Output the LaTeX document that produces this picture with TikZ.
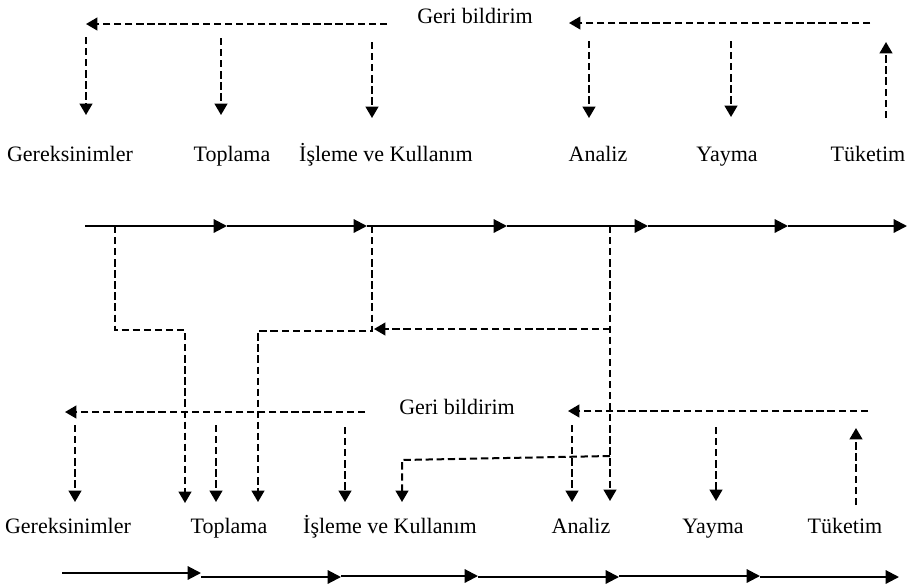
\documentclass[tikz,border=0pt]{standalone}
\usepackage{fontspec}
\setmainfont{Liberation Serif}
\usetikzlibrary{arrows.meta}
\begin{document}
\begin{tikzpicture}[x=0.75pt,y=-0.75pt,
  flow/.style={line width=1.6pt,-{Triangle[length=10pt,width=10pt]}},
  fbline/.style={line width=1.5pt,dash pattern=on 5.5pt off 2.8pt},
  fb/.style={fbline,-{Triangle[length=8.5pt,width=9.5pt]}},
  lbl/.style={font=\fontsize{16.5}{19}\selectfont,inner sep=0pt,anchor=base}]
\useasboundingbox (0,0) rectangle (908,587);
% ---------- top block ----------
\node[lbl] (g1) at (70,161) {Gereksinimler};
\node[lbl] (t1) at (232,161) {Toplama};
\node[lbl] (i1) at (386,161) {İşleme ve Kullanım};
\node[lbl] (a1) at (598,161) {Analiz};
\node[lbl] (y1) at (727,161) {Yayma};
\node[lbl] (k1) at (868,161) {Tüketim};
\node[lbl] (gb1) at (475,23) {Geri bildirim};
\coordinate (f1s) at (387,24); \coordinate (f1e) at (86,24);
\coordinate (f2s) at (870,23); \coordinate (f2e) at (569,23);
\draw[fb] (f1s) -- (f1e);
\draw[fb] (f2s) -- (f2e);
\coordinate (v1s) at (86,37);  \coordinate (v1e) at (86,115);
\coordinate (v2s) at (221,38); \coordinate (v2e) at (221,115);
\coordinate (v3s) at (372,42); \coordinate (v3e) at (372,118);
\coordinate (v4s) at (589,41); \coordinate (v4e) at (589,118);
\coordinate (v5s) at (731,41); \coordinate (v5e) at (731,117);
\coordinate (v6s) at (886,118); \coordinate (v6e) at (886,42);
\foreach \n in {1,...,6} {\draw[fb] (v\n s) -- (v\n e);}
% ---------- middle flow ----------
\coordinate (m0) at (85,226);
\coordinate (m1) at (227,226);
\coordinate (m2) at (367,226);
\coordinate (m3) at (507,226);
\coordinate (m4) at (648,226);
\coordinate (m5) at (788,226);
\coordinate (m6) at (907,226);
\draw[flow] (m0) -- (m1);
\draw[flow] (m1) -- (m2);
\draw[flow] (m2) -- (m3);
\draw[flow] (m3) -- (m4);
\draw[flow] (m4) -- (m5);
\draw[flow] (m5) -- (m6);
% ---------- bottom block ----------
\node[lbl] (g2) at (68,533) {Gereksinimler};
\node[lbl] (t2) at (229,533) {Toplama};
\node[lbl] (i2) at (390,533) {İşleme ve Kullanım};
\node[lbl] (a2) at (581,533) {Analiz};
\node[lbl] (y2) at (713,533) {Yayma};
\node[lbl] (k2) at (845,533) {Tüketim};
\node[lbl] (gb2) at (457,414) {Geri bildirim};
\coordinate (b1s) at (365,412); \coordinate (b1e) at (65,412);
\coordinate (b2s) at (868,411); \coordinate (b2e) at (568,411);
\draw[fb] (b1s) -- (b1e);
\draw[fb] (b2s) -- (b2e);
\coordinate (w1s) at (75,425);  \coordinate (w1e) at (75,502);
\coordinate (w2s) at (216,425); \coordinate (w2e) at (216,502);
\coordinate (w3s) at (345,427); \coordinate (w3e) at (345,502);
\coordinate (w4s) at (572,425); \coordinate (w4e) at (572,502);
\coordinate (w5s) at (716,427); \coordinate (w5e) at (716,501);
\coordinate (w6s) at (856,505); \coordinate (w6e) at (856,428);
\foreach \n in {1,...,6} {\draw[fb] (w\n s) -- (w\n e);}
% ---------- cross connectors ----------
\coordinate (c1a) at (115,226); \coordinate (c1b) at (115,330);
\coordinate (c1c) at (185,330); \coordinate (c1d) at (185,503);
\draw[fb] (c1a) -- (c1b) -- (c1c) -- (c1d);
\coordinate (c2a) at (372,226); \coordinate (c2b) at (372,331);
\coordinate (c2c) at (258,331); \coordinate (c2d) at (258,502);
\draw[fb] (c2a) -- (c2b) -- (c2c) -- (c2d);
\coordinate (c3a) at (610,226); \coordinate (c3b) at (610,329);
\coordinate (c3c) at (374,329); \coordinate (c3d) at (610,501);
\draw[fb] (c3a) -- (c3d);
\draw[fb] (c3b) -- (c3c);
\coordinate (c4a) at (610,456); \coordinate (c4b) at (402,460);
\coordinate (c4c) at (402,502);
\draw[fb] (c4a) -- (c4b) -- (c4c);
% ---------- bottom flow ----------
\coordinate (n0) at (62,573);
\coordinate (n1) at (201,573);
\coordinate (n1b) at (201,577);
\coordinate (n2) at (341,577);
\coordinate (n2b) at (341,576);
\coordinate (n3) at (478,576);
\coordinate (n3b) at (478,577);
\coordinate (n4) at (619,577);
\coordinate (n4b) at (619,576);
\coordinate (n5) at (760,576);
\coordinate (n5b) at (760,577);
\coordinate (n6) at (899,577);
\draw[flow] (n0) -- (n1);
\draw[flow] (n1b) -- (n2);
\draw[flow] (n2b) -- (n3);
\draw[flow] (n3b) -- (n4);
\draw[flow] (n4b) -- (n5);
\draw[flow] (n5b) -- (n6);
\end{tikzpicture}
\end{document}
